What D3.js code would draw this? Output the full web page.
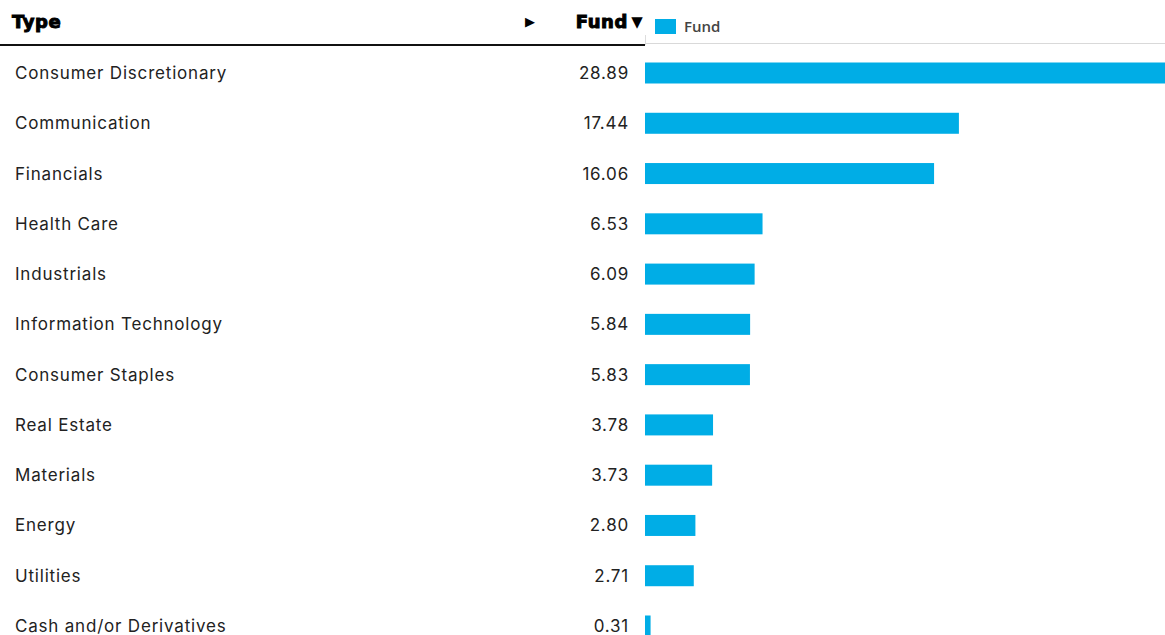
<!DOCTYPE html>
<html>
<head>
<meta charset="utf-8">
<script src="https://cdn.jsdelivr.net/npm/d3@7"></script>
<style>
  body { margin: 0; background: #fff; overflow: hidden; }
  svg { display: block; }
</style>
</head>
<body>
<svg id="chart" width="1165" height="635"></svg>
<script>
// sector weights (Fund, %)
const categories = [
  "Consumer Discretionary",
  "Communication",
  "Financials",
  "Health Care",
  "Industrials",
  "Information Technology",
  "Consumer Staples",
  "Real Estate",
  "Materials",
  "Energy",
  "Utilities",
  "Cash and/or Derivatives",
];
const values = [28.89, 17.44, 16.06, 6.53, 6.09, 5.84, 5.83, 3.78, 3.73, 2.8, 2.71, 0.31];
const seriesName = "Fund";

const width = 1165;
const barColor = "#00ade6";
const bodyFont = "Inter, 'Noto Sans', sans-serif";
const heavyFont = "'DejaVu Sans', Inter, sans-serif";

const svg = d3.select("#chart");

// scales
const y = d3.scalePoint().domain(categories).range([73, 626]);
const x = d3.scaleLinear().domain([0, 28.89]).range([645, 1165]);
const barH = 21;

// header (heavy face faked with a stroke)
const heavy = sel => sel
  .style("font-family", heavyFont)
  .style("font-weight", 700)
  .style("font-size", "18px")
  .style("letter-spacing", "0.6px")
  .attr("fill", "#000")
  .attr("stroke", "#000")
  .attr("stroke-width", 1);

svg.append("text")
  .attr("x", 12).attr("y", 28)
  .call(heavy)
  .text("Type");

svg.append("text")
  .attr("x", 530).attr("y", 26)
  .attr("text-anchor", "middle")
  .style("font-family", "'DejaVu Sans', sans-serif")
  .style("font-size", "13px")
  .attr("fill", "#000")
  .text("▶");

svg.append("text")
  .attr("x", 628).attr("y", 28)
  .attr("text-anchor", "end")
  .call(heavy)
  .text("Fund");

svg.append("text")
  .attr("x", 637).attr("y", 27)
  .attr("text-anchor", "middle")
  .style("font-family", "'DejaVu Sans', sans-serif")
  .style("font-size", "15px")
  .attr("fill", "#000")
  .text("▼");

// header rules
svg.append("line")
  .attr("x1", 0).attr("x2", 645)
  .attr("y1", 45).attr("y2", 45)
  .attr("stroke", "#111").attr("stroke-width", 2);
svg.append("line")
  .attr("x1", 645).attr("x2", width)
  .attr("y1", 43.5).attr("y2", 43.5)
  .attr("stroke", "#d9d9d9").attr("stroke-width", 1);
svg.append("line")
  .attr("x1", 645.5).attr("x2", 645.5)
  .attr("y1", 35).attr("y2", 45)
  .attr("stroke", "#ddd").attr("stroke-width", 1);

// legend
const legend = svg.append("g").attr("transform", "translate(655,19)");
legend.append("rect")
  .attr("width", 21).attr("height", 15)
  .attr("fill", barColor);
legend.append("text")
  .attr("x", 29).attr("y", 13)
  .style("font-family", "'Open Sans', sans-serif")
  .style("font-weight", 600)
  .style("font-size", "15px")
  .attr("fill", "#444")
  .text(seriesName);

// rows
const rows = svg.append("g").selectAll("g")
  .data(categories.map((c, i) => ({ cat: c, val: values[i] })))
  .join("g");

rows.append("text")
  .attr("x", 15)
  .attr("y", d => y(d.cat) + 6)
  .style("font-family", bodyFont)
  .style("font-size", "17px")
  .style("letter-spacing", "0.8px")
  .attr("fill", "#222")
  .text(d => d.cat);

rows.append("text")
  .attr("x", 629)
  .attr("y", d => y(d.cat) + 6)
  .attr("text-anchor", "end")
  .style("font-family", bodyFont)
  .style("font-size", "17px")
  .style("letter-spacing", "0.8px")
  .attr("fill", "#222")
  .text(d => d.val.toFixed(2));

rows.append("rect")
  .attr("x", x(0))
  .attr("y", d => y(d.cat) - barH / 2)
  .attr("width", d => x(d.val) - x(0))
  .attr("height", barH)
  .attr("fill", barColor);
</script>
</body>
</html>
